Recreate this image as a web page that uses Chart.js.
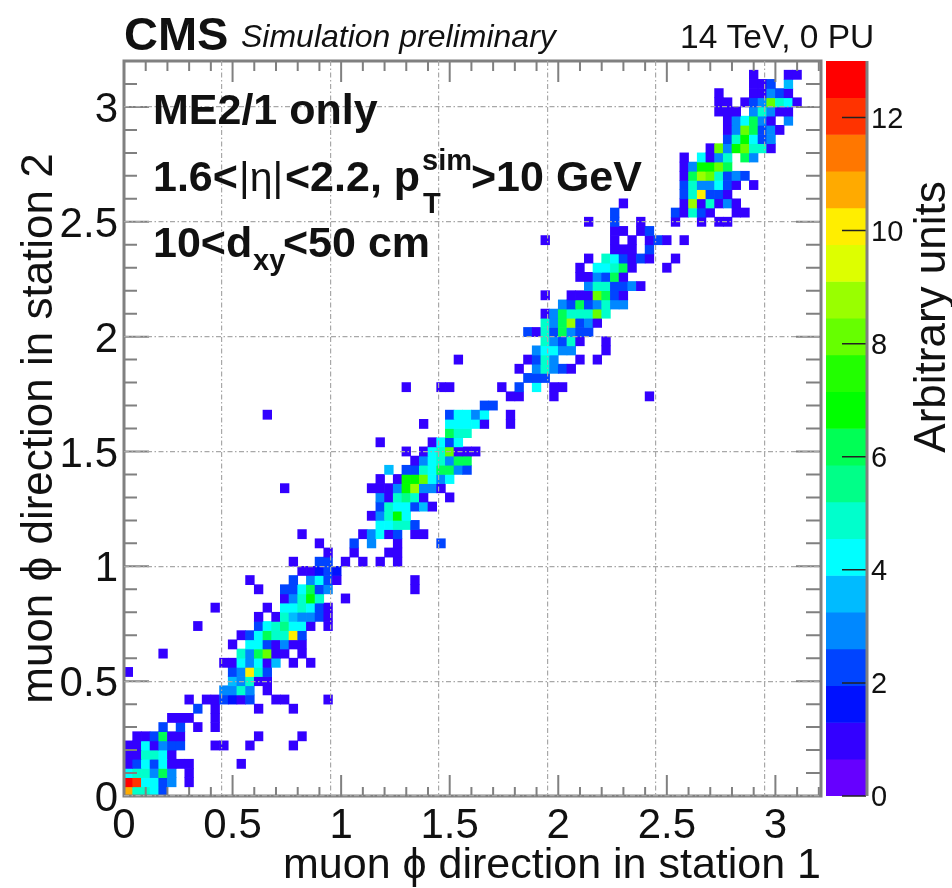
<!DOCTYPE html>
<html><head><meta charset="utf-8">
<style>
html,body{margin:0;padding:0;background:#fff;width:952px;height:888px;overflow:hidden}
#w{position:relative;width:952px;height:888px}
canvas{position:absolute;left:0;top:0;filter:blur(0.6px)}
</style>
<script src="https://cdn.jsdelivr.net/npm/chart.js@4"></script>
</head><body><div id="w"><canvas id="h" width="952" height="888"></canvas><canvas id="z" width="952" height="888"></canvas></div>
<script>
const binWidth = 0.04;
const xMajorLabels = [0, 0.5, 1, 1.5, 2, 2.5, 3];
const colorTicks = [0, 2, 4, 6, 8, 10, 12];
const levelEdges = [0,0.65,1.3,1.95,2.6,3.25,3.9,4.55,5.2,5.85,6.5,7.15,7.8,8.45,9.1,9.75,10.4,11.05,11.7,12.35,13];
const palette = ['#6600ff','#3300ff','#0011ff','#0044ff','#0088ff','#00bbff','#00ffff','#00ffcc','#00ff88','#00ff55','#00ff00','#22ff00','#66ff00','#99ff00','#ddff00','#ffee00','#ffaa00','#ff7700','#ff3300','#ff0000'];
const rowIndex = [0,1,2,3,4,5,6,7,8,9,10,11,12,13,14,15,16,17,18,19,20,21,22,23,24,25,26,27,28,29,30,31,32,33,34,35,36,37,38,39,40,41,42,43,44,45,46,47,48,49,50,51,52,53,54,55,56,57,58,59,60,61,62,63,64,65,66,67,68,69,70,71,72,73,74,75,76,77,78];
const rowCols = [
[0,1,2,3,4],[0,1,2,3,4,5,7],[0,1,2,3,4,5,7],[0,1,2,3,4,5,6,7,13],[0,1,2,3,4,5],[0,1,2,3,4,5,6,10,11,14,19],[1,2,3,4,5,6,15,20],[4,6,8,10],[5,6,7,10],[8,10,15,19],
[7,9,10,11,12,13,14,17,18,23],[11,12,13,14,16],[12,13,14,15,16],[0,12,13,14,15,16],[11,12,13,14,15,16,17,19,21],[4,13,14,15,16,17,18,20],[12,14,15,16,17,18,19,20],[13,14,15,16,17,18,19,20],[8,15,16,17,18,19,20,21,23],[15,17,18,19,20,21,22,23],
[10,16,18,19,20,21,22,23],[18,19,20,21,22,25],[15,18,19,20,21,22,23,33],[14,19,21,22,23,24,33],[20,21,22,23,24],[19,22,23,25,27,29,31],[23,26,30,31],[22,26,28,31,36],[20,27,28,29,30,31,33,34],[29,30,31,32,33],
[28,29,30,31,32],[29,30,31,32,33,34,35],[29,30,31,32,33,34,37],[18,28,29,30,31,32,33,34,35,36],[29,31,32,33,34,35,36,37],[30,32,33,34,35,36,37,38,39],[33,34,35,36,37,38,39],[32,34,35,36,37,38,39,40],[29,35,36,37,38],[37,38,39],
[34,37,38,39,40,41,44],[16,37,38,39,40,41,44],[41,42],[44,45,49,60],[32,36,37,43,45,47,49,50],[46,47,48],[45,47,48,49,50,51],[38,46,47,48,49,52,54],[47,48,49,50,51,55],[48,49,50,51,52,55],
[46,47,48,49,50,51,52,53],[48,49,50,51,52,53,54],[48,49,50,51,52,53,54,55],[50,51,52,53,54,55,56,57],[48,51,52,53,54,55,56,57],[53,54,55,56,57,58,59],[52,53,54,55,56,57],[52,54,55,56,57,58,62],[53,55,56,57,58,59,60,63],[56,57,58,60],
[48,56,58,60,61,62,64],[56,57,59,60],[53,56,59,63,66,68,69],[56,63,64,65,66,67,70,71],[57,64,65,66,67,68,69,70],[64,65,66,67,68,69],[64,65,66,67,68,69,70,72],[64,65,66,67,68,69,70,71],[64,65,66,67,68,69],[64,66,67,68,69,71,72],
[67,68,69,70,71,72,73,74],[69,70,71,72,73,74],[69,70,71,72,73,74,75],[69,70,71,72,73,74,76],[68,69,70,72,73,74,75,76],[68,69,71,72,73,74,75,76,77],[68,72,73,74,75,76],[72,73,74,76],[72,76,77]
];
const rowValues = [
[11,5,5,4,2],[13,12,4,4,2,3,1],[4,5,5,3,6,3,1],[1,2,4,2,4,1,1,1,1],[1,1,5,5,4,1],[1,1,4,1,3,2,2,1,1,1,1],[1,1,2,6,1,1,1,1],[2,2,1,1],[1,1,1,1],[2,1,1,1],
[1,1,1,2,1.5,1,2,1,1,1],[3,3,5,3,1],[3.5,3,5,1,1],[1,2,3,10,5,2],[1,1,4,3,4,1,3.5,1,1],[1,5,3,6,8,1,1,1],[1,4,4,2,1,3,1,1],[1,2,4,6,5,5,10,2],[1,2,4,5,5.5,4,4,1,1],[1,1,5,3.5,3,3,2,1],
[1,1,4,4,5,4,2,1],[1,3,5,7,5,1],[1,2,2,4,6,2,3,1],[1,2,3,4,2,1,1],[1,1,1.5,2,1.5],[1,2,2,1,1,1,1],[1,1,1,1],[1,2,3,1,2],[1,1,3,4,1,2,1,1],[4,4,5,5,2],
[1,3,5,7,4],[2,5,4,4,2,3.5,1],[3,1,5,5.5,5,1,1],[1,1,1,1,3,7,9,3,3,1],[1,1,7,7,8,4,3,4],[3.5,2,2,5,4,6,6,3,2],[1,3,4,5,3,6,6],[1,1,4,5,8,1,1,1],[1,1,4,2,4],[6,5,5],
[1,4,4,4,4,1,1],[1,2,4,4,3,4,1],[2,2],[1,1,1,1],[1,1,1,1,2,4,1,1],[2,2,2],[1,3,5,3,2,1],[1,1,2,5,3,1,1],[3,4,4,3,3,1],[5,3,2,5,1,1],
[2,1,5,2,6,3,2,2],[5,3,6,9,2,3,1],[1,3,6,5,5,5,8,5],[3,2,6,2,3,5,3,3],[1,1,1,1,8,6,2,1],[3,5,5,2,2,3,1],[1,1,3,2,6,1],[1,4,4,5,6,1,1],[1,5,4,2,1,2,1,1],[1,1,1,2],
[1,1,1,1,2,1,1],[1,1,1,2],[1,2,1,1,1,1,1],[2,2,1,5,2,1,1,1],[1,1,9,1,5,1,3,1],[2,5,10,2,2,1],[2,5,3,3,4,2,1,1],[1,6,9,8,5,2,3,2],[1,3,7,7,8,6],[1,4,1,3,5,6,3],
[1,8,3,7,8,5,5,1],[2,5,7,4,2,3],[1,3,8,6,2,3,1],[1,3,4,6,3,1,3],[1,1,1,3,5,3,1,1],[1,1,1,2,3,8,5,4,1],[1,1,1,3,2,1],[1,1,2,3.5],[1,1,1]
];

const FONT = '"Liberation Sans", Arial, sans-serif';
const INK = '#111';
const FRAME = '#808080';
const PLOT = {left:124, right:821, top:61, bottom:796};
const xMax = 3.21, yMax = 3.2;
const cells = [];
rowIndex.forEach((r,k)=>rowCols[k].forEach((c,n)=>cells.push({
  x:(c+0.5)*binWidth, y:[r*binWidth,(r+1)*binWidth], v:rowValues[k][n]})));
const colorOf = v => { let i=0; while(i<palette.length-1 && v>=levelEdges[i+1]) i++; return palette[i]; };
const isMajor = v => Math.abs(v*2-Math.round(v*2))<1e-6;
const gridColor = t => (t.tick && isMajor(t.tick.value)) ? '#a8a8a8' : 'transparent';

const innerTicks = {
  id:'innerTicks',
  afterDatasetsDraw(c){
    const g=c.ctx,a=c.chartArea,{x,y}=c.scales;
    g.save();g.strokeStyle=FRAME;g.lineWidth=2;g.beginPath();
    x.ticks.forEach(t=>{const p=x.getPixelForValue(t.value),M=isMajor(t.value);
      g.moveTo(p,a.bottom);g.lineTo(p,a.bottom-(M?21:9));
      g.moveTo(p,a.top);g.lineTo(p,a.top+(M?21:10));});
    y.ticks.forEach(t=>{const p=y.getPixelForValue(t.value),M=isMajor(t.value);
      g.moveTo(a.left,p);g.lineTo(a.left+(M?25:13),p);
      g.moveTo(a.right,p);g.lineTo(a.right-(M?25:15),p);});
    g.stroke();
    g.lineWidth=3;g.strokeRect(a.left,a.top,a.right-a.left,a.bottom-a.top);
    g.restore();
  }
};
function put(g,s,x,y,font){g.font=font+' '+FONT;g.fillText(s,x,y);}
const notes = {
  id:'notes',
  afterDraw(c){
    const g=c.ctx;g.save();g.fillStyle=INK;g.textAlign='left';g.textBaseline='alphabetic';
    put(g,'CMS',124,50,'bold 47px');
    put(g,'Simulation preliminary',241,47,'italic 32px');
    put(g,'14 TeV, 0 PU',680,48,'33.5px');
    put(g,'ME2/1 only',153,124,'bold 43px');
    put(g,'1.6<',153,191,'bold 43px');
    put(g,'|η|',239,191,'41px');
    put(g,'<2.2, p',285,191,'bold 43px');
    put(g,'sim',422,170,'bold 29px');
    put(g,'T',423,213,'bold 29px');
    put(g,'>10 GeV',471,191,'bold 43px');
    put(g,'10<d',153,257,'bold 43px');
    put(g,'xy',253,270,'bold 29px');
    put(g,'<50 cm',283,257,'bold 43px');
    g.restore();
  }
};
new Chart(document.getElementById('h'),{
  type:'bar',
  data:{datasets:[{
    data:cells,
    backgroundColor:ctx=>ctx.raw?colorOf(ctx.raw.v):'transparent',
    borderWidth:0,
    barThickness:(PLOT.right-PLOT.left)/xMax*binWidth,
    grouped:false
  }]},
  options:{
    responsive:false,animation:false,devicePixelRatio:1,
    layout:{padding:{left:0,top:PLOT.top,right:952-PLOT.right,bottom:0}},
    plugins:{legend:{display:false},title:{display:false},tooltip:{enabled:false}},
    scales:{
      x:{type:'linear',min:0,max:xMax,offset:false,
        afterFit(s){s.height=888-PLOT.bottom;},
        border:{display:false,dash:[5,2.5,1.5,2.5]},
        grid:{z:1,drawTicks:false,tickLength:0,lineWidth:1.2,color:gridColor},
        ticks:{stepSize:0.1,autoSkip:false,includeBounds:false,maxRotation:0,padding:9,color:INK,font:{family:FONT,size:42,lineHeight:1},
          callback:v=>{const m=xMajorLabels.find(l=>Math.abs(l-v)<1e-6);return m===undefined?'':String(m);}},
        title:{display:true,text:'muon ϕ direction in station 1',align:'end',color:INK,font:{family:FONT,size:43,lineHeight:1},padding:0}
      },
      y:{type:'linear',min:0,max:yMax,
        afterFit(s){s.width=PLOT.left;},
        border:{display:false,dash:[5,2.5,1.5,2.5]},
        grid:{z:1,drawTicks:false,tickLength:0,lineWidth:1.2,color:gridColor},
        ticks:{stepSize:0.1,autoSkip:false,includeBounds:false,padding:6,labelOffset:3.5,color:INK,font:{family:FONT,size:42,lineHeight:1},
          callback:v=>{const m=xMajorLabels.find(l=>Math.abs(l-v)<1e-6);return m===undefined?'':String(m);}},
        title:{display:true,text:'muon ϕ direction in station 2',color:INK,font:{family:FONT,size:44,lineHeight:1},padding:{top:18,bottom:0}}
      }
    }
  },
  plugins:[innerTicks,notes]
});

const Z = {left:826, right:866};
const barTicks = {
  id:'barTicks',
  afterDatasetsDraw(c){
    const g=c.ctx,a=c.chartArea,y=c.scales.y;
    g.save();g.strokeStyle='#222';g.lineWidth=1.5;g.beginPath();
    y.ticks.forEach(t=>{const p=y.getPixelForValue(t.value);g.moveTo(a.right,p);g.lineTo(a.right-24,p);});
    g.stroke();
    g.strokeStyle=FRAME;g.lineWidth=3;g.beginPath();g.moveTo(a.right+1,a.top);g.lineTo(a.right+1,a.bottom);g.stroke();
    g.fillStyle=INK;g.textAlign='center';g.textBaseline='alphabetic';
    g.translate(945,317);g.rotate(-Math.PI/2);
    g.font='44px '+FONT;g.fillText('Arbitrary units',0,0);
    g.restore();
  }
};
new Chart(document.getElementById('z'),{
  type:'bar',
  data:{datasets:[{
    data:palette.map((p,i)=>({x:0.5,y:[levelEdges[i],levelEdges[i+1]]})),
    backgroundColor:palette,
    borderWidth:0,
    barThickness:Z.right-Z.left,
    grouped:false
  }]},
  options:{
    responsive:false,animation:false,devicePixelRatio:1,
    layout:{padding:{left:Z.left,top:PLOT.top,right:0,bottom:888-PLOT.bottom}},
    plugins:{legend:{display:false},title:{display:false},tooltip:{enabled:false}},
    scales:{
      x:{type:'linear',min:0,max:1,offset:false,display:false},
      y:{type:'linear',position:'right',min:0,max:13,
        afterFit(s){s.width=952-Z.right;},
        border:{display:false},
        grid:{display:false,drawTicks:false,tickLength:0},
        afterBuildTicks(s){s.ticks=colorTicks.map(v=>({value:v}));},
        ticks:{padding:5,labelOffset:2,color:INK,font:{family:FONT,size:29,lineHeight:1}}
      }
    }
  },
  plugins:[barTicks]
});
</script></body></html>
